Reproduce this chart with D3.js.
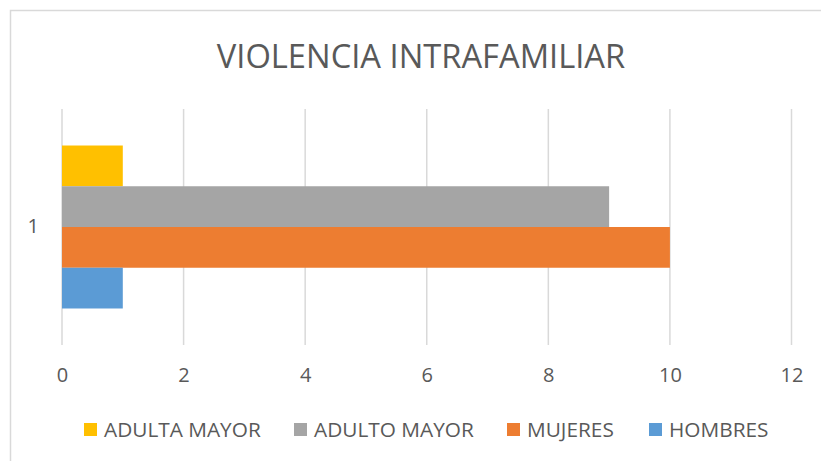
<!DOCTYPE html>
<html>
<head>
<meta charset="utf-8">
<script src="https://cdn.jsdelivr.net/npm/d3@7"></script>
<style>
  body { margin: 0; background: #fff; }
  text { font-family: "Open Sans", sans-serif; fill: #595959; }
</style>
</head>
<body>
<div id="canvas"></div>
<script>
const title = "VIOLENCIA INTRAFAMILIAR";
const categories = ["1"];
const seriesNames = ["ADULTA MAYOR", "ADULTO MAYOR", "MUJERES", "HOMBRES"];
const seriesValues = [1, 9, 10, 1];
const seriesColors = ["#FFC000", "#A5A5A5", "#ED7D31", "#5B9BD5"];
const xTicks = [0, 2, 4, 6, 8, 10, 12];

const width = 821;
const height = 461;
const margin = { top: 109, left: 62, bottom: 116, right: 29.5 };
const iwidth = width - margin.left - margin.right;
const iheight = height - margin.top - margin.bottom;

const svg = d3.select("#canvas").append("svg")
    .attr("width", width)
    .attr("height", height);

// chart border
svg.append("rect")
    .attr("x", 10.5)
    .attr("y", 10.5)
    .attr("width", 830)
    .attr("height", 470)
    .style("fill", "none")
    .style("stroke", "#D9D9D9")
    .style("stroke-width", 1.5);

svg.append("text")
    .attr("x", 421)
    .attr("y", 68)
    .attr("text-anchor", "middle")
    .style("font-size", "32.7px")
    .text(title);

const g = svg.append("g").attr("transform", `translate(${margin.left},${margin.top})`);

const x = d3.scaleLinear()
    .domain([0, 12])
    .range([0, iwidth]);

const y = d3.scaleBand()
    .domain(categories)
    .range([0, iheight])
    .padding(0.183);

const ySeries = d3.scaleBand()
    .domain(seriesNames)
    .range([0, y.bandwidth()]);

// gridlines
g.selectAll("line.grid").data(xTicks).enter().append("line")
    .attr("class", "grid")
    .attr("x1", d => x(d))
    .attr("x2", d => x(d))
    .attr("y1", 0)
    .attr("y2", iheight)
    .style("stroke", "#D9D9D9")
    .style("stroke-width", 1.5);

// x axis labels
const xAxis = g.append("g")
    .attr("transform", `translate(0, ${iheight})`)
    .call(d3.axisBottom(x).tickValues(xTicks).tickSize(0).tickPadding(23).tickFormat(d3.format("d")));
xAxis.select(".domain").remove();
xAxis.selectAll("text")
    .style("font-size", "20px")
    .style("font-family", "Open Sans, sans-serif")
    .attr("fill", "#595959");

// category axis
const yAxis = g.append("g")
    .call(d3.axisLeft(y).tickSize(0).tickPadding(23));
yAxis.select(".domain").remove();
yAxis.selectAll("text")
    .style("font-size", "20px")
    .style("font-family", "Open Sans, sans-serif")
    .attr("fill", "#595959");

// bars
const rows = seriesNames.map((s, i) => ({ name: s, value: seriesValues[i], color: seriesColors[i], cat: categories[0] }));
g.selectAll("rect.bar").data(rows).enter().append("rect")
    .attr("class", "bar")
    .attr("x", x(0))
    .attr("y", d => y(d.cat) + ySeries(d.name))
    .attr("width", d => x(d.value) - x(0))
    .attr("height", ySeries.bandwidth())
    .style("fill", d => d.color);

// legend
const legendX = [84, 294, 507, 649];
const legend = svg.append("g").attr("transform", "translate(0, 423)");
const items = legend.selectAll("g").data(rows).enter().append("g")
    .attr("transform", (d, i) => `translate(${legendX[i]}, 0)`);
items.append("rect")
    .attr("width", 13)
    .attr("height", 13)
    .style("fill", d => d.color);
items.append("text")
    .attr("x", 20)
    .attr("y", 14)
    .style("font-size", "20.8px")
    .text(d => d.name);
</script>
</body>
</html>
